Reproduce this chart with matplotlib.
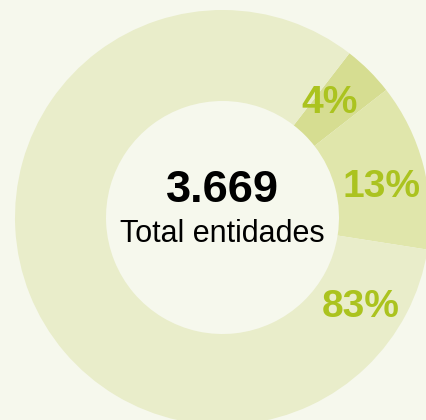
import matplotlib
matplotlib.use('Agg')
import matplotlib.pyplot as plt

# data
shares = [4, 13, 83]
labels = ['4%', '13%', '83%']
slice_colors = ['#d6dd91', '#e0e6ab', '#e9edca']
total = '3.669'
total_label = 'Total entidades'

bg = '#f6f8ed'
label_color = '#abc31f'

plt.rcParams['font.family'] = ['Liberation Sans', 'DejaVu Sans']

fig = plt.figure(figsize=(4.26, 4.20), dpi=100, facecolor=bg)
ax = fig.add_axes([0, 0, 1, 1])
ax.set_facecolor(bg)

cx, cy = 222.5, 420 - 217.5
r_out, r_in = 207.5, 116.5

ax.pie(shares, colors=slice_colors, startangle=52.3, counterclock=False,
       center=(cx, cy), radius=r_out, frame=True,
       wedgeprops=dict(width=r_out - r_in, linewidth=0))
ax.set_xlim(0, 426)
ax.set_ylim(0, 420)
ax.axis('off')

# percentage labels (baseline positions)
label_pos = [(330, 420 - 113), (381.5, 420 - 197), (361, 420 - 317)]
for lab, (x, y) in zip(labels, label_pos):
    ax.text(x, y, lab, ha='center', va='baseline', fontsize=28,
            fontweight='bold', color=label_color)

ax.text(cx, 420 - 202, total, ha='center', va='baseline', fontsize=32.5,
        fontweight='bold', color='black')
ax.text(cx, 420 - 242, total_label, ha='center', va='baseline', fontsize=22,
        color='black')

fig.savefig('out.png', dpi=100, facecolor=bg)
